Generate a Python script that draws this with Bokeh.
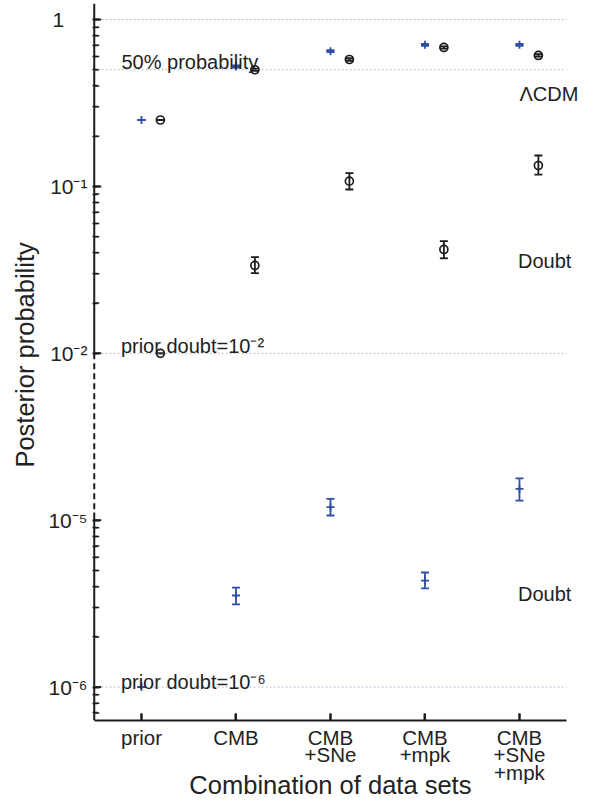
import numpy as np
from bokeh.plotting import figure
from bokeh.models import Range1d, FixedTicker, Whisker, TeeHead, ColumnDataSource
from bokeh.core.properties import value
from bokeh.embed import file_html
from bokeh.resources import INLINE

# ---------------- data ----------------
categories = ["prior", "CMB", "CMB\n+SNe", "CMB\n+mpk", "CMB\n+SNe\n+mpk"]
cat_x = [1, 2, 3, 4, 5]

# prior doubt = 1e-2 (black circles)
lcdm_p2 = [0.25, 0.50, 0.576, 0.68, 0.609]
lcdm_p2_lo = [0.25, 0.492, 0.566, 0.670, 0.599]
lcdm_p2_hi = [0.25, 0.508, 0.586, 0.690, 0.619]
doubt_p2 = [0.01, 0.0336, 0.1075, 0.0419, 0.1334]
doubt_p2_lo = [0.01, 0.0302, 0.0958, 0.0371, 0.1178]
doubt_p2_hi = [0.01, 0.0377, 0.120, 0.0470, 0.1532]

# prior doubt = 1e-6 (blue crosses)
lcdm_p6 = [0.25, 0.523, 0.646, 0.705, 0.705]
lcdm_p6_lo = [0.25, 0.515, 0.637, 0.696, 0.696]
lcdm_p6_hi = [0.25, 0.531, 0.655, 0.714, 0.714]
doubt_p6 = [1e-6, 3.54e-6, 1.197e-5, 4.35e-6, 1.54e-5]
doubt_p6_lo = [1e-6, 3.13e-6, 1.067e-5, 3.90e-6, 1.31e-5]
doubt_p6_hi = [1e-6, 3.95e-6, 1.343e-5, 4.86e-6, 1.78e-5]

ref_gray = [1.0, 0.5, 0.01]
ref_blue = [1e-6]

ytick_vals = [1.0, 1e-1, 1e-2, 1e-5, 1e-6]
ytick_labels = ["1\u2007\u2007", "10\u207b\u00b9", "10\u207b\u00b2", "10\u207b\u2075", "10\u207b\u2076"]

# ---------------- broken log axis transform ----------------
LOWER_SHIFT = 2.0     # lower panel shifted up by two decades
LOWER_LIMIT = 1e-4    # values below this belong to the lower panel


def to_u(p):
    p = np.asarray(p, dtype=float)
    lg = np.log10(p)
    return np.round(np.where(p < LOWER_LIMIT, lg + LOWER_SHIFT, lg), 9)


W, H = 592, 802
BL, BR, BT, BB = 92, 10, 3, 82
U_TOP, U_BOT = 0.0959, -4.2
X_START, X_END = 0.4815, 5.667
FRAME_H = H - BT - BB
FRAME_W = W - BL - BR
PX = FRAME_H / (U_TOP - U_BOT)        # px per u unit
PXX = FRAME_W / (X_END - X_START)     # px per x unit
BREAK_TOP, BREAK_BOT = -2.0, -2.954
MAJ_LEN, MIN_LEN = 7, 5

BLACK = "#1c1c1c"
BLUE = "#2f4ea6"
TXT = "#222222"
FONT = "Liberation Sans"
OFF = 0.2

p = figure(width=W, height=H, x_range=Range1d(X_START, X_END),
           y_range=Range1d(U_BOT, U_TOP), output_backend="svg",
           toolbar_location=None, min_border_left=BL, min_border_right=BR,
           min_border_top=BT, min_border_bottom=BB)
p.grid.visible = False
p.outline_line_color = None
p.background_fill_color = "white"

# x axis
xa = p.xaxis[0]
xa.ticker = FixedTicker(ticks=cat_x, minor_ticks=[])
xa.major_label_overrides = {x: c for x, c in zip(cat_x, categories)}
xa.bounds = (0.5, 5.5)
xa.axis_line_width = 2
xa.axis_line_color = BLACK
xa.major_tick_in = MAJ_LEN
xa.major_tick_out = 0
xa.major_tick_line_width = 2
xa.major_tick_line_color = BLACK
xa.major_label_standoff = 5
xa.major_label_text_font = FONT
xa.major_label_text_font_size = "20.5px"
xa.major_label_text_color = TXT
xa.major_label_text_line_height = 0.78
xa.axis_label = "Combination of data sets\u2007"
xa.axis_label_text_font = FONT
xa.axis_label_text_font_size = "25.5px"
xa.axis_label_text_font_style = "normal"
xa.axis_label_text_color = TXT
xa.axis_label_standoff = -16

# y axis
minor = []
for d in [-2, -1]:
    for k in range(2, 10):
        minor.append(float(np.log10(k * 10.0 ** d)))
for d in [-7, -6]:
    for k in range(2, 10):
        u = float(np.log10(k * 10.0 ** d) + LOWER_SHIFT)
        if U_BOT <= u <= BREAK_BOT:
            minor.append(u)
yt = [float(t) for t in to_u(ytick_vals)]
ya = p.yaxis[0]
ya.ticker = FixedTicker(ticks=yt, minor_ticks=minor)
ya.major_label_overrides = {t: s for t, s in zip(yt, ytick_labels)}
ya.axis_line_color = None
ya.major_tick_in = MAJ_LEN
ya.major_tick_out = 0
ya.minor_tick_in = MIN_LEN
ya.minor_tick_out = 0
ya.major_tick_line_width = 2
ya.minor_tick_line_width = 1.5
ya.major_tick_line_color = BLACK
ya.minor_tick_line_color = BLACK
ya.major_label_standoff = 5
ya.major_label_text_font = FONT
ya.major_label_text_font_size = "21px"
ya.major_label_text_color = TXT
ya.axis_label = "\u2007Posterior probability"
ya.axis_label_text_font = FONT
ya.axis_label_text_font_size = "25.5px"
ya.axis_label_text_font_style = "normal"
ya.axis_label_text_color = TXT
ya.axis_label_standoff = 6

# inward tick marks along the (hand-broken) y axis line and the x axis
p.segment(x0=[0.5] * len(yt), x1=[0.5 + MAJ_LEN / PXX] * len(yt), y0=yt, y1=yt,
          line_color=BLACK, line_width=2)
p.segment(x0=[0.5] * len(minor), x1=[0.5 + MIN_LEN / PXX] * len(minor), y0=minor, y1=minor,
          line_color=BLACK, line_width=1.5)
p.segment(x0=cat_x, x1=cat_x, y0=[U_BOT] * len(cat_x), y1=[U_BOT + MAJ_LEN / PX] * len(cat_x),
          line_color=BLACK, line_width=2)

# broken y axis line
p.segment(x0=[0.5, 0.5], y0=[U_TOP, BREAK_BOT], x1=[0.5, 0.5], y1=[BREAK_TOP, U_BOT],
          line_color=BLACK, line_width=2)
p.segment(x0=[0.5], y0=[BREAK_TOP], x1=[0.5], y1=[BREAK_BOT],
          line_color=BLACK, line_width=2, line_dash="6 4")

# reference dotted lines
ug = to_u(ref_gray)
p.segment(x0=[0.5] * len(ug), x1=[5.5] * len(ug), y0=ug, y1=ug,
          line_color="#8a8a8a", line_width=1, line_dash="1 3")
ub = to_u(ref_blue)
p.segment(x0=[0.5] * len(ub), x1=[5.5] * len(ub), y0=ub, y1=ub,
          line_color="#8396cf", line_width=1, line_dash="1 3")


def series(xs, v, lo, hi, color, marker):
    src = ColumnDataSource(dict(x=xs, y=to_u(v), lo=to_u(lo), hi=to_u(hi)))
    w = Whisker(source=src, base="x", upper="hi", lower="lo", dimension="height",
                line_color=color, line_width=1.8,
                upper_head=TeeHead(size=8, line_color=color, line_width=1.8),
                lower_head=TeeHead(size=8, line_color=color, line_width=1.8))
    p.add_layout(w)
    if marker == "circle":
        p.scatter("x", "y", source=src, marker="circle", size=8, fill_color=None,
                  line_color=color, line_width=1.7)
    else:
        p.scatter("x", "y", source=src, marker="cross", size=8,
                  line_color=color, line_width=1.8)


xb = [x + OFF for x in cat_x]
series(cat_x, lcdm_p6, lcdm_p6_lo, lcdm_p6_hi, BLUE, "cross")
series(cat_x, doubt_p6, doubt_p6_lo, doubt_p6_hi, BLUE, "cross")
series(xb, lcdm_p2, lcdm_p2_lo, lcdm_p2_hi, BLACK, "circle")
series(xb, doubt_p2, doubt_p2_lo, doubt_p2_hi, BLACK, "circle")


# in-plot annotations
def txt(x, u, s, size="20px"):
    p.text(x=[x], y=[u], text=[s], text_font=value(FONT), text_font_size=size,
           text_color=TXT, text_align="left", text_baseline="alphabetic")


txt(0.788, -0.2546, "50% probability")
txt(5.0, -0.445, "\u039bCDM")
txt(4.985, -1.444, "Doubt")
txt(4.985, -3.441, "Doubt")
txt(0.782, -1.959, "prior doubt=10\u207b\u00b2")
txt(0.782, -3.971, "prior doubt=10\u207b\u2076")

open("out.html", "w").write(file_html(p, INLINE))
